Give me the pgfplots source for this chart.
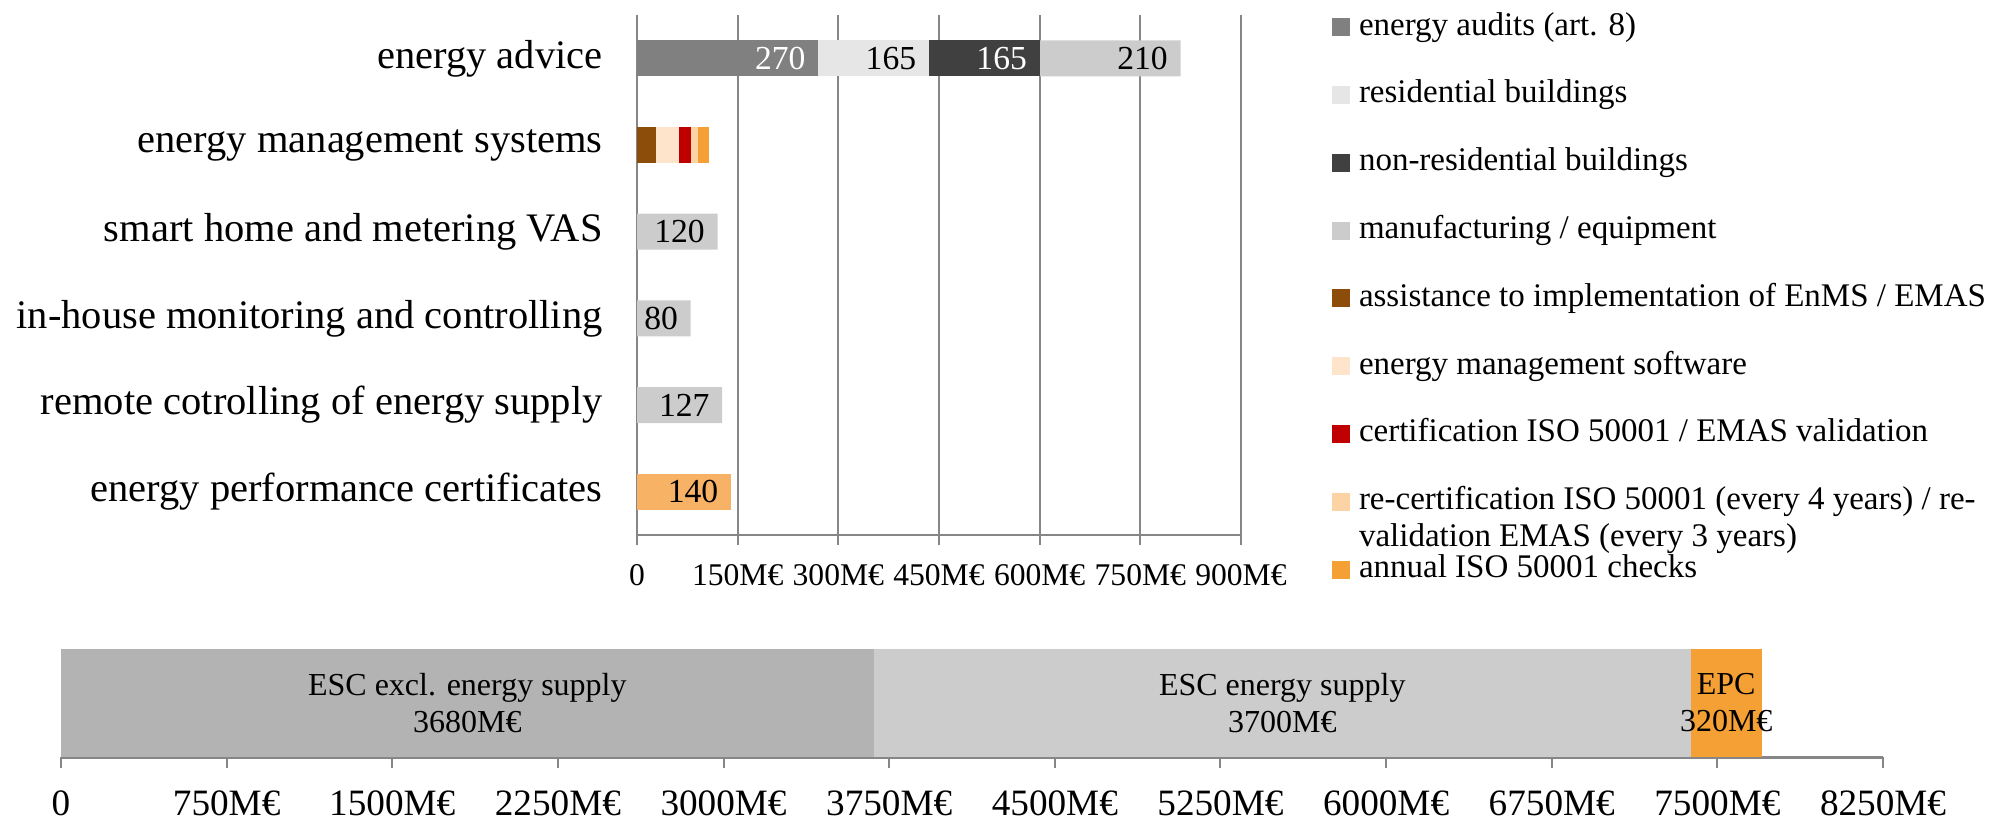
\documentclass[border=0pt]{standalone}
\usepackage{fontspec}
\setmainfont{Liberation Serif}
\usepackage{pgfplots}
\usepackage{pgfplotstable}
\pgfplotsset{compat=1.18}

\definecolor{cAudit}{RGB}{128,128,128}
\definecolor{cRes}{RGB}{230,230,230}
\definecolor{cNonRes}{RGB}{64,64,64}
\definecolor{cManuf}{RGB}{204,204,204}
\definecolor{cAssist}{RGB}{140,76,10}
\definecolor{cSoft}{RGB}{253,228,202}
\definecolor{cCert}{RGB}{192,0,0}
\definecolor{cRecert}{RGB}{251,211,164}
\definecolor{cAnnual}{RGB}{244,160,53}
\definecolor{cEPCtop}{RGB}{247,178,102}
\definecolor{cEscX}{RGB}{179,179,179}
\definecolor{cEsc}{RGB}{204,204,204}
\definecolor{cEpc}{RGB}{244,160,53}
\definecolor{axgray}{RGB}{134,134,134}

\pgfplotstableread{
c audit res nonres manuf assist soft cert recert annual epc
0 270 165 165 210 0 0 0 0 0 0
1 0 0 0 0 29 33 19 10 16 0
2 0 0 0 120 0 0 0 0 0 0
3 0 0 0 80 0 0 0 0 0 0
4 0 0 0 127 0 0 0 0 0 0
5 0 0 0 0 0 0 0 0 0 140
}\topdata

\pgfplotstableread{
c escx esc epc
0 3680 3700 320
}\botdata

\pgfplotsset{
  hidezero/.style={
    point meta=explicit symbolic,
    nodes near coords={\ifdim\pgfplotspointmeta pt=0pt \else\pgfplotspointmeta\fi},
    every node near coord/.append style={anchor=east, xshift={\pgfplotspointmeta*0.16778pt-6.2pt}, inner sep=0pt, font=\fontsize{16.8}{18}\selectfont, text=#1},
  },
}

\begin{document}
\begin{tikzpicture}[x=1pt,y=1pt]
\path[use as bounding box] (0,0) rectangle (997.5,-410);

\begin{axis}[
  at={(318.5pt,-7.5pt)}, anchor=north west,
  scale only axis, width=302pt, height=260pt,
  xbar stacked, bar width=18pt,
  xmin=0, xmax=900, ymin=-0.5, ymax=5.5, y dir=reverse,
  axis x line*=bottom, axis y line*=left,
  x axis line style={-, draw=axgray, line width=1.2pt},
  y axis line style={-, draw=axgray, line width=1.2pt},
  tick align=outside,
  major tick length=5pt, minor tick length=5pt,
  xtick={0,150,...,900},
  xticklabels={0,150M€,300M€,450M€,600M€,750M€,900M€},
  xtick style={draw=axgray, line width=1pt},
  xticklabel style={font=\fontsize{15.8}{17}\selectfont, anchor=center, yshift=-15pt, inner sep=0pt},
  ytick={0,...,5},
  yticklabels={energy advice, energy management systems, smart home and metering VAS, in-house monitoring and controlling, remote cotrolling of energy supply, energy performance certificates},
  ytick style={draw=none},
  minor ytick={-0.5,0.5,...,5.5},
  minor tick style={draw=axgray, line width=1pt},
  yticklabel style={font=\fontsize{20.25}{24}\selectfont, anchor=east, inner sep=0pt, xshift=-12pt},
  xmajorgrids,
  major grid style={draw=axgray, line width=1pt},
  legend style={at={(1.1507,1.0075)}, anchor=north west, draw=none, fill=none,
    inner sep=0pt, outer sep=0pt, row sep=17.9pt, column sep=4.5pt,
    cells={anchor=base west},
    nodes={inner sep=0pt, text height=12pt, text depth=4pt, font=\fontsize{16.5}{18.5}\selectfont}},
  legend image code/.code={\path[#1] (0pt,-0.5pt) rectangle (9pt,8.5pt);},
]
\addplot[fill=cAudit, draw=none, hidezero=white] table[x=audit, y=c, meta=audit] {\topdata};
\addlegendentry{energy audits (art. 8)}
\addplot[fill=cRes, draw=none, hidezero=black] table[x=res, y=c, meta=res] {\topdata};
\addlegendentry{residential buildings}
\addplot[fill=cNonRes, draw=none, hidezero=white] table[x=nonres, y=c, meta=nonres] {\topdata};
\addlegendentry{non-residential buildings}
\addplot[fill=cManuf, draw=none, hidezero=black] table[x=manuf, y=c, meta=manuf] {\topdata};
\addlegendentry{manufacturing / equipment}
\addplot[fill=cAssist, draw=none] table[x=assist, y=c] {\topdata};
\addlegendentry{assistance to implementation of EnMS / EMAS}
\addplot[fill=cSoft, draw=none] table[x=soft, y=c] {\topdata};
\addlegendentry{energy management software}
\addplot[fill=cCert, draw=none] table[x=cert, y=c] {\topdata};
\addlegendentry{certification ISO 50001 / EMAS validation}
\addplot[fill=cRecert, draw=none] table[x=recert, y=c] {\topdata};
\addlegendentry{\parbox[t]{330pt}{\fontsize{16.5}{18.5}\selectfont re-certification ISO 50001 (every 4 years) / re-\\validation EMAS (every 3 years)}}
\addplot[fill=cAnnual, draw=none] table[x=annual, y=c] {\topdata};
\addlegendentry{annual ISO 50001 checks}
\addplot[fill=cEPCtop, draw=none, hidezero=black, forget plot] table[x=epc, y=c, meta=epc] {\topdata};
\end{axis}

\begin{axis}[
  at={(30.5pt,-324.5pt)}, anchor=north west,
  scale only axis, width=911pt, height=54pt,
  xbar stacked, bar width=1,
  xmin=0, xmax=8250, ymin=-0.5, ymax=0.5,
  axis x line*=bottom, axis y line=none,
  x axis line style={-, draw=axgray, line width=1.5pt},
  tick align=outside, major tick length=5.5pt,
  xtick={0,750,...,8250},
  xticklabels={0,750M€,1500M€,2250M€,3000M€,3750M€,4500M€,5250M€,6000M€,6750M€,7500M€,8250M€},
  xtick style={draw=axgray, line width=1pt},
  xticklabel style={font=\fontsize{18.6}{22}\selectfont, anchor=center, yshift=-17.5pt, inner sep=0pt},
  ytick=\empty,
  after end axis/.code={
    \node[align=center, font=\fontsize{16}{18.5}\selectfont] at (axis cs:1840,0) {ESC excl. energy supply\\3680M€};
    \node[align=center, font=\fontsize{16}{18.5}\selectfont] at (axis cs:5530,0) {ESC energy supply\\3700M€};
    \node[align=center, font=\fontsize{16}{18.5}\selectfont] at (axis cs:7540,0) {EPC\\320M€};
  },
]
\addplot[fill=cEscX, draw=none] table[x=escx, y=c] {\botdata};
\addplot[fill=cEsc, draw=none] table[x=esc, y=c] {\botdata};
\addplot[fill=cEpc, draw=none] table[x=epc, y=c] {\botdata};
\end{axis}
\end{tikzpicture}
\end{document}
